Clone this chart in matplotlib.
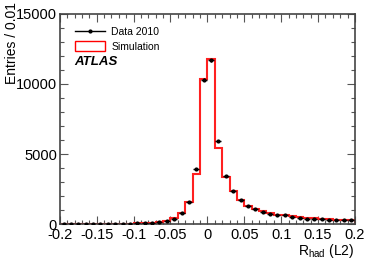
import numpy as np
import matplotlib
matplotlib.use("Agg")
import matplotlib.pyplot as plt
from matplotlib.ticker import MultipleLocator
from matplotlib.lines import Line2D
from matplotlib.patches import Patch

plt.rcParams['font.family'] = ['Liberation Sans', 'DejaVu Sans']

bin_edges = np.round(np.arange(-0.20, 0.2001, 0.01), 3)
sim = [5, 5, 5, 8, 10, 12, 15, 20, 28, 38, 50, 70, 100, 150, 250, 430, 760, 1550, 3550, 10330,
       11760, 5430, 3330, 2330, 1710, 1310, 1070, 930, 790, 640, 640, 545, 470, 430, 400,
       360, 330, 310, 280, 280]
data = [5, 5, 5, 8, 10, 12, 15, 20, 26, 35, 45, 65, 95, 140, 200, 340, 760, 1600, 3900, 10300,
        11700, 5950, 3400, 2330, 1710, 1310, 1100, 830, 710, 615, 640, 500, 430, 380, 360,
        350, 320, 280, 280, 270]
data_err = [np.sqrt(v) for v in data]

fig = plt.figure(figsize=(3.74, 2.68), dpi=100)
ax = fig.add_axes([0.160, 0.164, 0.789, 0.784])

centers = 0.5 * (bin_edges[:-1] + bin_edges[1:])
ax.stairs(sim, bin_edges, color='#ff2020', lw=1.5, zorder=2)
ax.errorbar(centers, data, yerr=data_err, xerr=0.004, fmt='o', color='black', ms=2,
            elinewidth=1, capsize=0, zorder=3)

ax.set_xlim(-0.2, 0.2)
ax.set_ylim(0, 15000)
ax.xaxis.set_minor_locator(MultipleLocator(0.01))
ax.yaxis.set_major_locator(MultipleLocator(5000))
ax.yaxis.set_minor_locator(MultipleLocator(1000))
ax.tick_params(which='both', direction='in', top=True, right=True, labelsize=10.5, pad=2)
ax.tick_params(axis='x', pad=3)
ax.tick_params(which='major', length=6, width=0.8, color='#555555')
ax.tick_params(which='minor', length=3, width=0.8, color='#555555')
ax.set_xticks(np.round(np.arange(-0.2, 0.2001, 0.05), 2))
ax.set_xticklabels(['-0.2', '-0.15', '-0.1', '-0.05', '0', '0.05', '0.1', '0.15', '0.2'])
for s in ax.spines.values():
    s.set_color('#444444')
    s.set_linewidth(1.2)

fig.text(12 / 374, 1 - 2 / 268, 'Entries / 0.01', rotation=90, ha='center', va='top',
         fontsize=10)
ax.set_xlabel(r'R$_{\mathregular{had}}$ (L2)', fontsize=10, loc='right', labelpad=0)

h1 = Line2D([0], [0], color='black', marker='o', ms=2, lw=1)
h2 = Patch(facecolor='white', edgecolor='red', lw=1)
ax.legend([h1, h2], ['Data 2010', 'Simulation'], loc='upper left', frameon=False,
          fontsize=7.5, bbox_to_anchor=(0.03, 0.97), handlelength=2.9, handletextpad=0.6,
          labelspacing=0.4, handleheight=1.1, borderaxespad=0.2)
ax.text(0.05, 0.77, 'ATLAS', transform=ax.transAxes, fontsize=9.5, fontweight='bold',
        fontstyle='italic', va='center')

fig.savefig('out.png', dpi=100)
